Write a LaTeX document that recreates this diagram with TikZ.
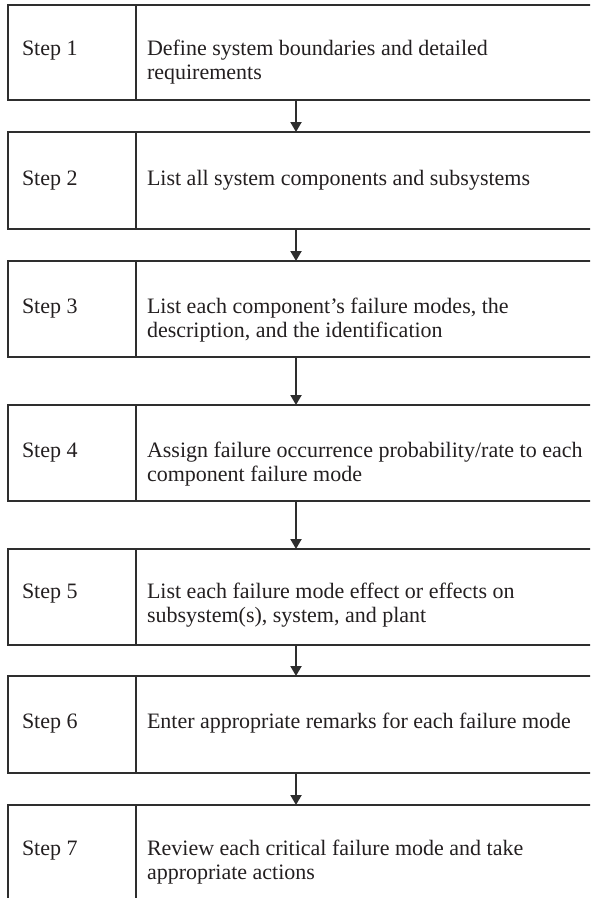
\documentclass[tikz,border=0pt]{standalone}
\usepackage{fontspec}
\setmainfont{Liberation Serif}
\usetikzlibrary{arrows.meta}
\definecolor{rulec}{HTML}{2E2E2E}
\definecolor{inkc}{HTML}{231F20}
\begin{document}
\begin{tikzpicture}[x=1pt,y=-1pt,
  cell/.style={draw=rulec, line width=2pt, inner sep=0pt, outer sep=0pt,
    anchor=north west},
  stepcell/.style={cell, minimum width=128.5pt},
  desccell/.style={cell, minimum width=470pt},
  txt/.style={anchor=base west, inner sep=0pt, outer sep=0pt, text=inkc,
    font=\fontsize{22}{24.5}\selectfont},
  flow/.style={draw=rulec, line width=2pt,
    -{Triangle[width=11pt,length=10pt]}}]
  \useasboundingbox (0,0) rectangle (590,898);
  \clip (0,0) rectangle (590,898);
  % x position of the connecting arrows
  \coordinate (ax) at (296,0);

  % step cells (left) and description cells (right)
  \node[stepcell, minimum height=95pt] (s1) at (7.5,5) {};
  \node[desccell, minimum height=95pt] (d1) at (136,5) {};
  \node[stepcell, minimum height=97pt] (s2) at (7.5,132) {};
  \node[desccell, minimum height=97pt] (d2) at (136,132) {};
  \node[stepcell, minimum height=96pt] (s3) at (7.5,261) {};
  \node[desccell, minimum height=96pt] (d3) at (136,261) {};
  \node[stepcell, minimum height=96pt] (s4) at (7.5,405) {};
  \node[desccell, minimum height=96pt] (d4) at (136,405) {};
  \node[stepcell, minimum height=96pt] (s5) at (7.5,549) {};
  \node[desccell, minimum height=96pt] (d5) at (136,549) {};
  \node[stepcell, minimum height=97pt] (s6) at (7.5,676) {};
  \node[desccell, minimum height=97pt] (d6) at (136,676) {};
  \node[stepcell, minimum height=110pt] (s7) at (7.5,805) {};
  \node[desccell, minimum height=110pt] (d7) at (136,805) {};

  % labels
  \node[txt] (t1) at (22,55) {Step 1};
  \node[txt] (t2) at (22,185) {Step 2};
  \node[txt] (t3) at (22,313) {Step 3};
  \node[txt] (t4) at (22,457) {Step 4};
  \node[txt] (t5) at (22,598) {Step 5};
  \node[txt] (t6) at (22,728) {Step 6};
  \node[txt] (t7) at (22,855) {Step 7};

  \node[txt] (x1) at (147,55)
    {\vtop{\hbox{Define system boundaries and detailed}\hbox{requirements}}};
  \node[txt] (x2) at (147,185) {List all system components and subsystems};
  \node[txt] (x3) at (147,313)
    {\vtop{\hbox{List each component’s failure modes, the}\hbox{description, and the identification}}};
  \node[txt] (x4) at (147,457)
    {\vtop{\hbox{Assign failure occurrence probability/rate to each}\hbox{component failure mode}}};
  \node[txt] (x5) at (147,598)
    {\vtop{\hbox{List each failure mode effect or effects on}\hbox{subsystem(s), system, and plant}}};
  \node[txt] (x6) at (147,728) {Enter appropriate remarks for each failure mode};
  \node[txt] (x7) at (147,855)
    {\vtop{\hbox{Review each critical failure mode and take}\hbox{appropriate actions}}};

  % connectors
  \draw[flow] (d1.south -| ax) -- (d2.north -| ax);
  \draw[flow] (d2.south -| ax) -- (d3.north -| ax);
  \draw[flow] (d3.south -| ax) -- (d4.north -| ax);
  \draw[flow] (d4.south -| ax) -- (d5.north -| ax);
  \draw[flow] (d5.south -| ax) -- (d6.north -| ax);
  \draw[flow] (d6.south -| ax) -- (d7.north -| ax);
\end{tikzpicture}
\end{document}
